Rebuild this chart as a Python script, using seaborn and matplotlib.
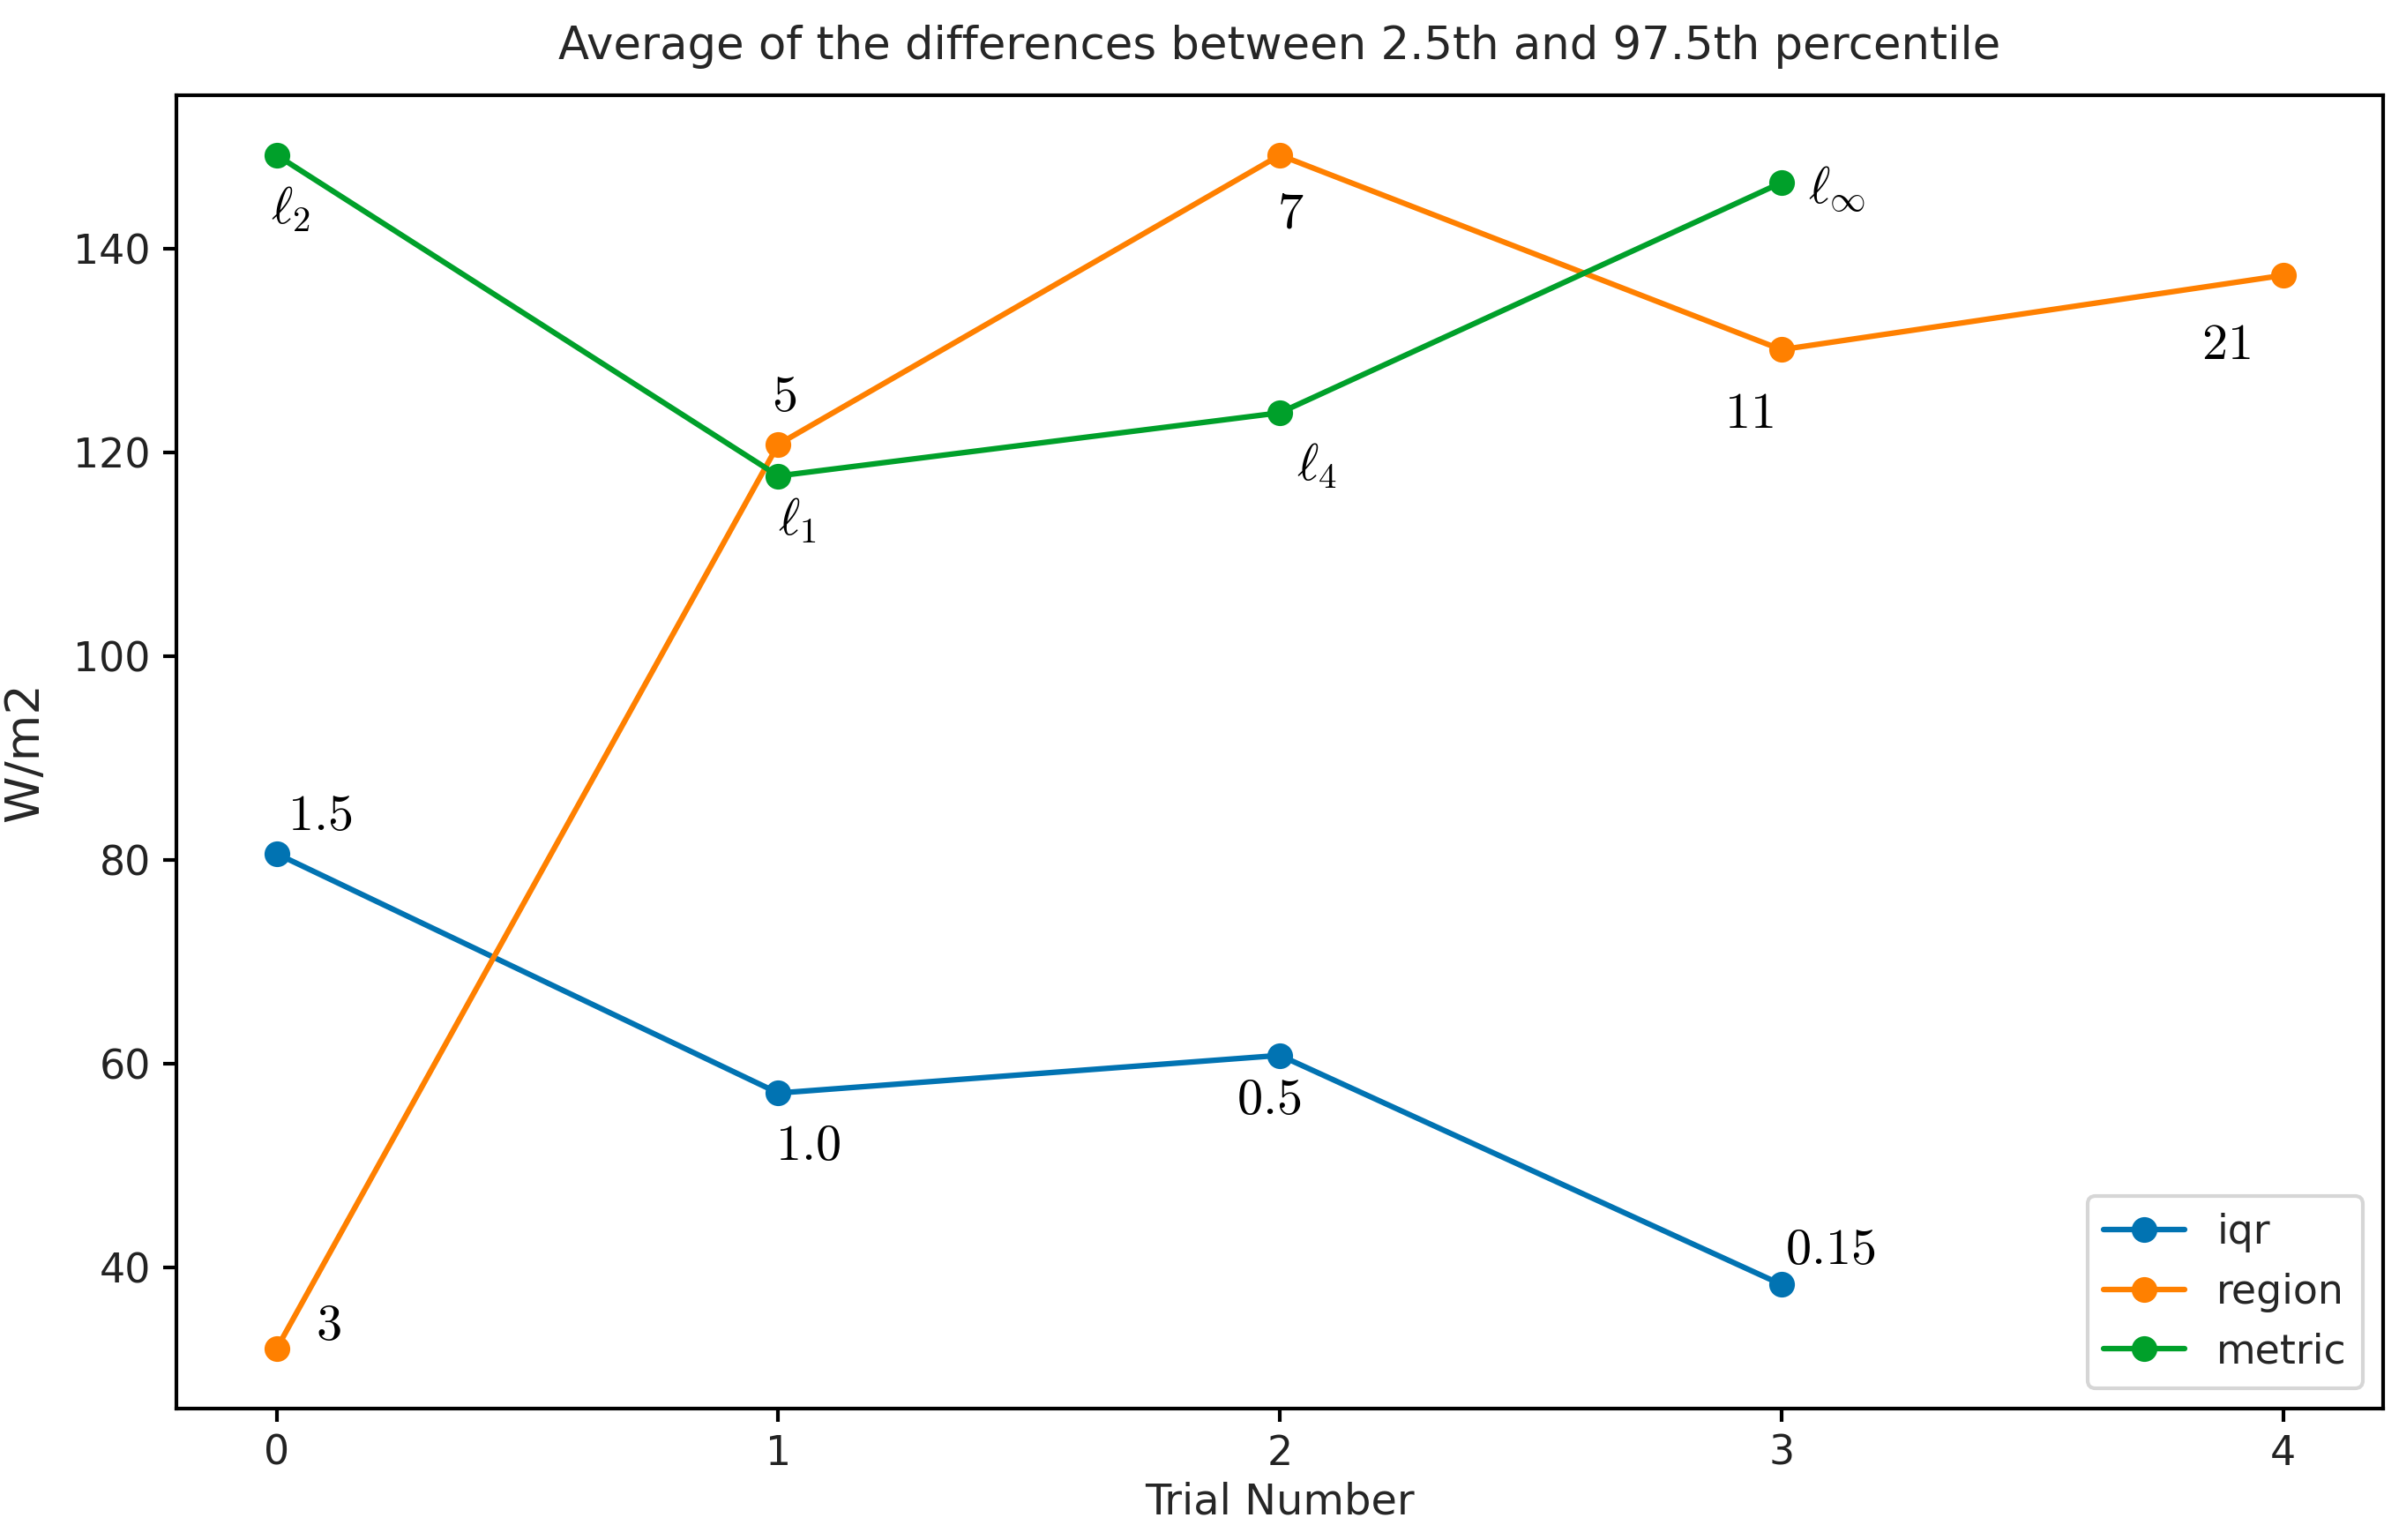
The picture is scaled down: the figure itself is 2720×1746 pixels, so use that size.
import numpy as np
import pandas as pd
import matplotlib
matplotlib.use("Agg")
import matplotlib.pyplot as plt
import seaborn as sns

# values
trials = [0, 1, 2, 3, 4]
iqr = [80.6, 57.1, 60.8, 38.3]
region = [32.0, 120.8, 149.2, 130.1, 137.4]
metric = [149.2, 117.7, 123.9, 146.5]

iqr_labels = ["1.5", "1.0", "0.5", "0.15"]
region_labels = ["3", "5", "7", "11", "21"]
metric_labels = [r"\ell_2", r"\ell_1", r"\ell_4", r"\ell_\infty"]

# label offsets in points (x, y)
iqr_offsets = [(11.7, 10.5), (8.0, -14.2), (-2.9, -12.1), (13.4, 9.6)]
region_offsets = [(14.2, 6.3), (1.7, 13.0), (2.9, -15.9), (-8.8, -17.2), (-15.5, -18.8)]
metric_offsets = [(3.8, -14.6), (5.0, -12.1), (10.0, -14.2), (15.1, -2.1)]

sns.set_style("ticks")
plt.rcParams["font.family"] = ["DejaVu Sans"]
plt.rcParams["mathtext.fontset"] = "cm"
plt.rcParams["axes.edgecolor"] = "black"
plt.rcParams["axes.linewidth"] = 1.0
plt.rcParams["xtick.color"] = "black"
plt.rcParams["ytick.color"] = "black"
plt.rcParams["xtick.labelcolor"] = "#222222"
plt.rcParams["ytick.labelcolor"] = "#222222"

colors = {"iqr": "#0173B2", "region": "#FF8000", "metric": "#00A02A"}

fig = plt.figure(figsize=(2720 / 300, 1746 / 300), dpi=300)
ax = fig.add_axes([0.0735, 0.0855, 0.9200, 0.8525])

series = [
    ("iqr", iqr, iqr_labels, iqr_offsets),
    ("region", region, region_labels, region_offsets),
    ("metric", metric, metric_labels, metric_offsets),
]

for name, vals, labs, offs in series:
    xs = trials[:len(vals)]
    df = pd.DataFrame({"trial": xs, "value": vals})
    sns.lineplot(data=df, x="trial", y="value", ax=ax, color=colors[name],
                 marker="o", markersize=7, markeredgewidth=0, linewidth=1.5,
                 label=name)
    for x, y, lab, (dx, dy) in zip(xs, vals, labs, offs):
        ax.annotate("$" + lab + "$", (x, y), xytext=(dx, dy),
                    textcoords="offset points", ha="center", va="center",
                    fontsize=14, color="black")

ax.set_xticks(trials)
ax.tick_params(labelsize=11, length=3.5, width=1.0)
ax.set_title("Average of the differences between 2.5th and 97.5th percentile",
             fontsize=12.3, pad=10)
ax.set_xlabel("Trial Number", fontsize=11.5, labelpad=2)
ax.set_ylabel("W/m2", fontsize=13, labelpad=7)
ax.legend(loc="lower right", fontsize=11, frameon=True)

fig.savefig("out.png", dpi=300)
